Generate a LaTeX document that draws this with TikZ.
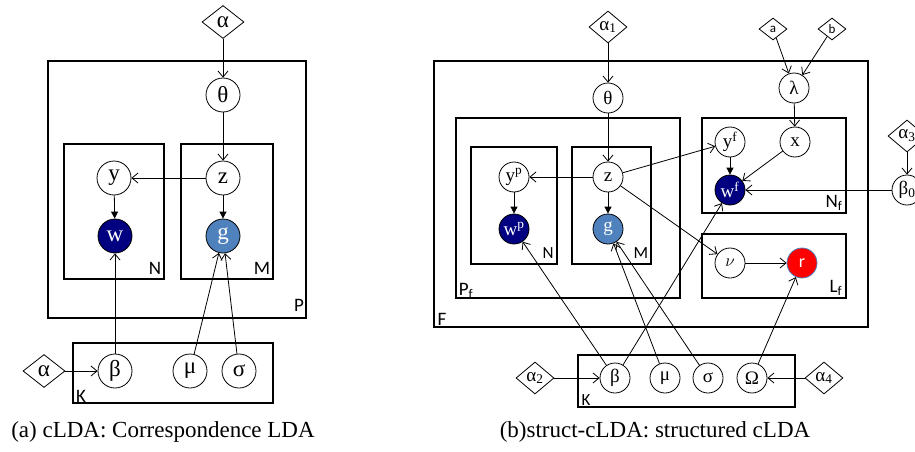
\documentclass[tikz,border=0pt]{standalone}
\usepackage{fontspec}
\setmainfont{Liberation Serif}
\newfontfamily\platefont{Carlito}
\usetikzlibrary{shapes.geometric,arrows.meta}

\definecolor{wordblue}{RGB}{0,0,128}
\definecolor{imgblue}{RGB}{79,129,189}

\tikzset{
  var/.style={circle, draw, line width=0.8pt, minimum size=34pt, inner sep=0pt, font=\fontsize{23}{23}\selectfont},
  svar/.style={var, minimum size=30pt, font=\fontsize{19}{19}\selectfont},
  hyper/.style={diamond, draw, line width=0.8pt, minimum width=42pt, minimum height=33pt, inner sep=0pt, font=\fontsize{23}{23}\selectfont},
  shyper/.style={hyper, minimum width=38pt, minimum height=32pt, font=\fontsize{19}{19}\selectfont},
  obsw/.style={fill=wordblue, text=white},
  obsg/.style={fill=imgblue, text=white},
  plate/.style={line width=1.3pt},
  platelbl/.style={font=\platefont\fontsize{19}{19}\selectfont, inner sep=0pt},
  edge/.style={arrows={-{Straight Barb[length=6pt,width=10pt]}}, line width=0.8pt},
  fedge/.style={arrows={-{Triangle[length=7pt,width=7pt]}}, line width=0.8pt},
}

\begin{document}
\begin{tikzpicture}[x=1pt,y=-1pt]
\useasboundingbox (0,0) rectangle (915,452);

% (a) cLDA
\draw[plate] (48,61) rectangle (306,318);
\draw[plate] (64,144) rectangle (164,279);
\draw[plate] (181,144) rectangle (273,279);
\draw[plate] (73,343) rectangle (273,403);
\node[platelbl] (lP) at (299,305) {P};
\node[platelbl] (lN) at (155,268) {N};
\node[platelbl] (lM) at (262,268) {M};
\node[platelbl] (lK) at (81,396) {K};

\node[hyper] (aA) at (223,22) {α};
\node[var] (aT) at (223,95) {θ};
\node[var] (aY) at (114,178) {y};
\node[var] (aZ) at (223,178) {z};
\node[var, obsw] (aW) at (115,236) {w};
\node[var, obsg] (aG) at (223,236) {g};
\node[var] (aB) at (115,371) {β};
\node[var] (aM) at (190,371) {μ};
\node[var] (aS) at (239,371) {σ};
\node[hyper] (aA2) at (44,371) {α};

\draw[edge] (aA) -- (aT);
\draw[edge] (aT) -- (aZ);
\draw[edge] (aZ) -- (aY);
\draw[fedge] (aY) -- (aW);
\draw[fedge] (aZ) -- (aG);
\draw[edge] (aB) -- (aW);
\draw[edge] (aM) -- (aG);
\draw[edge] (aS) -- (aG);
\draw[edge] (aA2) -- (aB);

\node[font=\fontsize{23}{23}\selectfont] (capA) at (163,432) {(a) cLDA: Correspondence LDA};

% (b) struct-cLDA
\draw[plate] (434,61) rectangle (868,327);
\draw[plate] (456,118) rectangle (680,298);
\draw[plate] (471,147) rectangle (557,264);
\draw[plate] (572,147) rectangle (651,264);
\draw[plate] (702,118) rectangle (846,213);
\draw[plate] (702,234) rectangle (846,298);
\draw[plate] (578,355) rectangle (795,407);
\node[platelbl] (lF) at (442,319) {F};
\node[platelbl] (lPf) at (466,291) {P\textsubscript{f}};
\node[platelbl, font=\platefont\fontsize{17}{17}\selectfont] (lN2) at (548,253) {N};
\node[platelbl, font=\platefont\fontsize{17}{17}\selectfont] (lM2) at (641,253) {M};
\node[platelbl] (lNf) at (834,203) {N\textsubscript{f}};
\node[platelbl] (lLf) at (836,288) {L\textsubscript{f}};
\node[platelbl, font=\platefont\fontsize{17}{17}\selectfont] (lK2) at (586,400) {K};

\node[shyper] (bA1) at (608,27) {α\textsubscript{1}};
\node[svar] (bT) at (608,98) {θ};
\node[svar] (bYp) at (514,177) {y\textsuperscript{p}};
\node[svar] (bZ) at (608,177) {z};
\node[svar, obsw] (bWp) at (514,229) {w\textsuperscript{p}};
\node[svar, obsg] (bG) at (608,229) {g};
\node[shyper, minimum width=28pt, minimum height=22pt, font=\platefont\fontsize{13}{13}\selectfont] (bHa) at (773,29) {a};
\node[shyper, minimum width=28pt, minimum height=22pt, font=\platefont\fontsize{13}{13}\selectfont] (bHb) at (832,29) {b};
\node[svar] (bL) at (794,88) {λ};
\node[svar] (bYf) at (730,142) {y\textsuperscript{f}};
\node[svar] (bX) at (795,142) {x};
\node[svar, obsw] (bWf) at (730,190) {w\textsuperscript{f}};
\node[shyper] (bA3) at (907,136) {α\textsubscript{3}};
\node[svar] (bB0) at (907,190) {β\textsubscript{0}};
\node[svar] (bNu) at (730,263) {$\nu$};
\node[svar, fill=red, draw=imgblue, text=white, font=\platefont\fontsize{18}{18}\selectfont] (bR) at (802,263) {r};
\node[svar] (bB) at (615,378) {β};
\node[svar] (bM) at (665,378) {μ};
\node[svar] (bS) at (708,378) {σ};
\node[svar] (bO) at (752,378) {Ω};
\node[shyper] (bA2) at (535,378) {α\textsubscript{2}};
\node[shyper] (bA4) at (824,378) {α\textsubscript{4}};

\draw[edge] (bA1) -- (bT);
\draw[edge] (bT) -- (bZ);
\draw[edge] (bZ) -- (bYp);
\draw[fedge] (bYp) -- (bWp);
\draw[fedge] (bZ) -- (bG);
\draw[edge] (bZ) -- (bYf);
\draw[edge] (bZ) -- (bNu);
\draw[edge] (bHa) -- (bL);
\draw[edge] (bHb) -- (bL);
\draw[edge] (bL) -- (bX);
\draw[fedge] (bYf) -- (bWf);
\draw[edge] (bX) -- (bWf);
\draw[edge] (bB0) -- (bWf);
\draw[edge] (bA3) -- (bB0);
\draw[edge] (bNu) -- (bR);
\draw[edge] (bO) -- (bR);
\draw[edge] (bB) -- (bWp);
\draw[edge] (bB) -- (bWf);
\draw[edge] (bM) -- (bG);
\draw[edge] (bS) -- (bG);
\draw[edge] (bA2) -- (bB);
\draw[edge] (bA4) -- (bO);

\node[font=\fontsize{23}{23}\selectfont] (capB) at (655,432) {(b)struct-cLDA: structured cLDA};

\end{tikzpicture}
\end{document}
